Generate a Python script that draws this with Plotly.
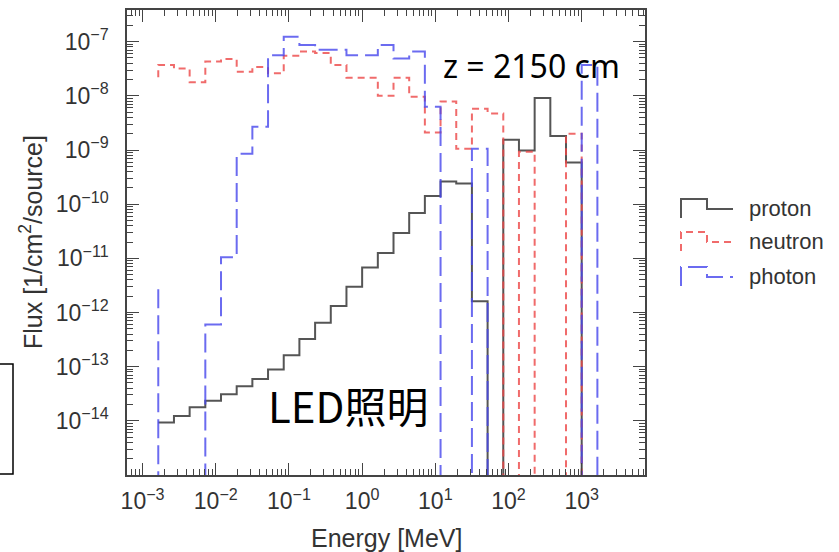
import plotly.graph_objects as go

# ---------------- data ----------------
# energy bin edges [MeV]
edges = [1.638e-3, 2.683e-3, 4.394e-3, 7.197e-3, 1.179e-2, 1.931e-2, 3.162e-2,
         5.179e-2, 8.483e-2, 0.1389, 0.2276, 0.3728, 0.6105, 1.0, 1.638, 2.683,
         4.394, 7.197, 11.79, 19.31, 31.62, 51.79, 84.83, 138.9, 227.6, 372.8,
         610.5, 1000.0, 1638.0]

# level of the curve at the first edge (underflow bin)
proton_start = 9.3e-15
neutron_start = 2.2e-8
photon_start = 2.7e-12

# flux per bin [1/cm^2/source]; 0 = empty bin
proton = [9.3e-15, 1.23e-14, 1.78e-14, 2.34e-14, 3.09e-14, 4.37e-14, 5.9e-14,
          8.9e-14, 1.62e-13, 3.24e-13, 6.5e-13, 1.32e-12, 3.0e-12, 6.8e-12,
          1.26e-11, 2.95e-11, 6.9e-11, 1.41e-10, 2.63e-10, 2.4e-10, 1.62e-12,
          0, 1.55e-9, 9.8e-10, 9.1e-9, 1.82e-9, 5.9e-10, 0]
neutron = [3.7e-8, 3.2e-8, 1.78e-8, 4.3e-8, 4.8e-8, 2.8e-8, 3.4e-8,
           2.6e-8, 5.5e-8, 6.6e-8, 6.2e-8, 3.7e-8, 2.15e-8, 2.15e-8,
           1.0e-8, 2.15e-8, 9.6e-9, 2.1e-9, 7.9e-9, 1.05e-9, 5.8e-9,
           4.7e-9, 0, 9.3e-10, 0, 0, 2.0e-9, 0]
photon = [0, 0, 0, 6.0e-13, 1.05e-11, 8.5e-10, 2.7e-9,
          5.6e-8, 1.23e-7, 8.7e-8, 7.1e-8, 7.1e-8, 5.6e-8, 5.6e-8,
          8.7e-8, 4.9e-8, 6.6e-8, 6.3e-9, 0, 0, 1.05e-9,
          0, 0, 0, 0, 0, 0, 3.7e-8]

x_tick_vals = [1e-3, 1e-2, 1e-1, 1e0, 1e1, 1e2, 1e3]
x_tick_text = ["10<sup>−3</sup>", "10<sup>−2</sup>", "10<sup>−1</sup>", "10<sup>0</sup>",
               "10<sup>1</sup>", "10<sup>2</sup>", "10<sup>3</sup>"]
y_tick_vals = [1e-14, 1e-13, 1e-12, 1e-11, 1e-10, 1e-9, 1e-8, 1e-7]
y_tick_text = ["10<sup>−14</sup>", "10<sup>−13</sup>", "10<sup>−12</sup>", "10<sup>−11</sup>",
               "10<sup>−10</sup>", "10<sup>−9</sup>", "10<sup>−8</sup>", "10<sup>−7</sup>"]

series_names = ["proton", "neutron", "photon"]

# ---------------- figure ----------------
FLOOR = 1e-17  # empty bins drawn below the visible range


def step_xy(edg, vals, start):
    xs, ys = [edg[0]], [start]
    for j, v in enumerate(vals):
        xs += [edg[j], edg[j + 1]]
        ys += [v, v]
    xs.append(edg[-1])
    ys.append(0)
    ys = [y if y > 0 else FLOOR for y in ys]
    return xs, ys


W, H = 839, 552
L, R, T, B = 127, 194, 10, 77
PW, PH = W - L - R, H - T - B

FONT = "Liberation Sans, Arial, sans-serif"
COL_P = "#555555"
COL_N = "rgba(236,70,70,0.8)"
COL_G = "rgba(70,70,236,0.8)"
styles = {
    "proton": dict(color=COL_P, width=2, dash="solid"),
    "neutron": dict(color=COL_N, width=2, dash="7px,5px"),
    "photon": dict(color=COL_G, width=2, dash="19px,7px"),
}

fig = go.Figure()
for name, vals, start in [("proton", proton, proton_start),
                          ("neutron", neutron, neutron_start),
                          ("photon", photon, photon_start)]:
    xs, ys = step_xy(edges, vals, start)
    fig.add_trace(go.Scatter(x=xs, y=ys, mode="lines", name=name,
                             line=styles[name], showlegend=False,
                             hoverinfo="skip"))


def px2paper(px, py):
    return (px - L) / PW, (T + PH - py) / PH


def path_from(points):
    parts = []
    for i, (px, py) in enumerate(points):
        x, y = px2paper(px, py)
        parts.append(("M" if i == 0 else "L") + f"{x:.5f},{y:.5f}")
    return " ".join(parts)


shapes = []
legend_rows = [("proton", 199), ("neutron", 232), ("photon", 267)]
annotations = []
for name, ytop in legend_rows:
    pts = [(681, ytop + 19), (681, ytop), (707, ytop), (707, ytop + 10), (733, ytop + 10)]
    shapes.append(dict(type="path", xref="paper", yref="paper", path=path_from(pts),
                       line=styles[name]))
    ax, ay = px2paper(747, ytop + 9)
    annotations.append(dict(x=ax, y=ay, xref="paper", yref="paper", text=name,
                            showarrow=False, xanchor="left", yanchor="middle",
                            font=dict(family=FONT, size=22, color="#333333")))

# partially visible box at the left edge
bx0, by0 = px2paper(-6, 474)
bx1, by1 = px2paper(13, 364)
shapes.append(dict(type="rect", xref="paper", yref="paper", x0=bx0, y0=by0, x1=bx1, y1=by1,
                   line=dict(color="black", width=1.5), fillcolor="rgba(0,0,0,0)"))

zx, zy = px2paper(531, 65)
annotations.append(dict(x=zx, y=zy, xref="paper", yref="paper", text="z = 2150 cm",
                        showarrow=False, xanchor="center", yanchor="middle",
                        font=dict(family="Noto Sans", size=32, color="black")))
lx, ly = px2paper(348, 404)
annotations.append(dict(x=lx, y=ly, xref="paper", yref="paper", text="LED照明",
                        showarrow=False, xanchor="center", yanchor="middle",
                        font=dict(family="Noto Sans CJK JP", size=42, color="black")))

# axis titles placed as annotations at their reference positions
tx, ty = px2paper(386, 538)
annotations.append(dict(x=tx, y=ty, xref="paper", yref="paper", text="Energy [MeV]",
                        showarrow=False, xanchor="center", yanchor="middle",
                        font=dict(family=FONT, size=25, color="#333333")))
vx, vy = px2paper(31, 242)
annotations.append(dict(x=vx, y=vy, xref="paper", yref="paper",
                        text="Flux [1/cm<sup>2</sup>/source]", textangle=-90,
                        showarrow=False, xanchor="center", yanchor="middle",
                        font=dict(family=FONT, size=25, color="#333333")))

axis_common = dict(type="log", showline=True, linecolor="#444444", linewidth=1.5,
                   mirror="allticks", ticks="inside", ticklen=12, tickwidth=1,
                   tickcolor="#444444", showgrid=False, zeroline=False, automargin=False,
                   tickfont=dict(family=FONT, size=23, color="#333333"),
                   minor=dict(ticks="inside", ticklen=6, tickwidth=1, tickcolor="#444444",
                              dtick="D1", showgrid=False))

fig.update_layout(
    width=W, height=H, autosize=False,
    margin=dict(l=L, r=R, t=T, b=B, pad=0, autoexpand=False),
    paper_bgcolor="white", plot_bgcolor="white",
    xaxis=dict(range=[-3.213, 3.865], tickvals=x_tick_vals, ticktext=x_tick_text,
               ticklabelstandoff=5, **axis_common),
    yaxis=dict(range=[-15.0, -6.415], tickvals=y_tick_vals, ticktext=y_tick_text,
               ticklabelstandoff=12, **axis_common),
    shapes=shapes,
    annotations=annotations,
)

fig.write_html("out.html")
